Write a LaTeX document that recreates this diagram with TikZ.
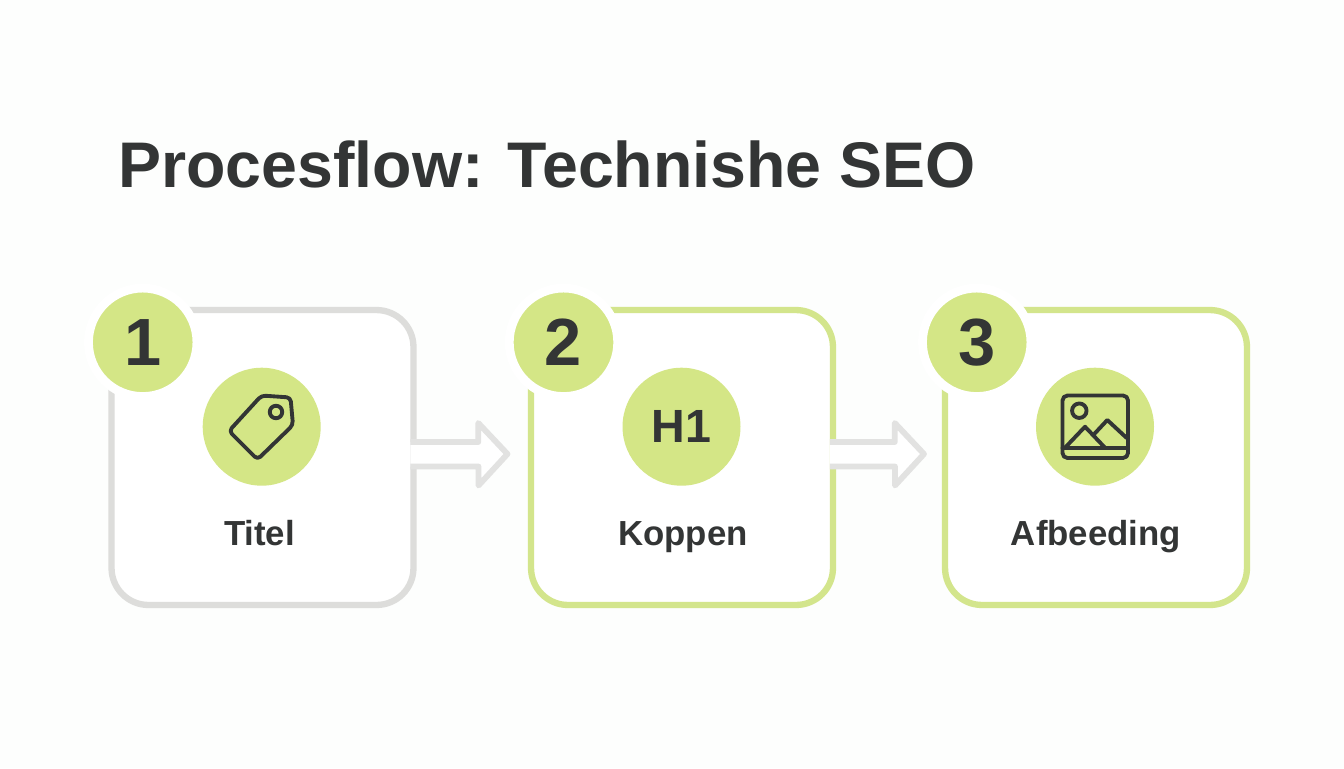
\documentclass[tikz,border=0pt]{standalone}
\usepackage{xcolor}
\usepackage{fontspec}
\setmainfont{Liberation Sans}
\usetikzlibrary{calc}
\definecolor{pagewhite}{HTML}{FDFEFD}
\definecolor{limefill}{HTML}{D4E686}
\definecolor{limeline}{HTML}{D3E58C}
\definecolor{boxgray}{HTML}{DDDDDB}
\definecolor{arrowgray}{HTML}{E2E2E1}
\definecolor{inkdark}{HTML}{333535}
\tikzset{
	stepbox/.style={draw,fill=white,rounded corners=0.74cm,line width=3.6pt,outer sep=0pt,minimum width=6.04cm,minimum height=5.9cm},
	badge/.style={circle,fill=limefill,draw=white,line width=5pt,minimum size=2.17cm,inner sep=0pt,text=inkdark,font=\bfseries\fontsize{38}{38}\selectfont},
	iconcircle/.style={circle,fill=limefill,minimum size=2.36cm,inner sep=0pt,text=inkdark,font=\bfseries\fontsize{26.5}{26.5}\selectfont},
	steplabel/.style={anchor=base,text=inkdark,font=\bfseries\fontsize{19.8}{19.8}\selectfont},
	flowarrow/.style={draw=arrowgray,fill=white,line width=3.3pt,line join=round},
	iconline/.style={draw=inkdark,line width=2.2pt,line join=round,line cap=round}
}
\begin{document}
\begin{tikzpicture}[x=0.02cm,y=-0.02cm]
	\fill[pagewhite] (0,0) rectangle (1344,768);
	\useasboundingbox (0,0) rectangle (1344,768);
	\node[anchor=base west,text=inkdark,font=\bfseries\fontsize{36.7}{36.7}\selectfont] (flowtitle) at (112,187) {Procesflow: Technishe SEO};

	\node[stepbox,draw=boxgray] (titelbox) at (262.5,457.5) {};
	\node[stepbox,draw=limeline] (koppenbox) at (682,457.5) {};
	\node[stepbox,draw=limeline] (afbeeldingbox) at (1096,457.5) {};

	\draw[flowarrow] ($(titelbox.east)+(-3.2,-15.5)$) -- ++(68,0) -- ++(0,-19) -- ($(titelbox.east)+(94,-3.5)$) -- ($(titelbox.east)+(65,28)$) -- ++(0,-19) -- ($(titelbox.east)+(-3.2,9)$);
	\draw[flowarrow] ($(koppenbox.east)+(-3.2,-15.5)$) -- ++(65,0) -- ++(0,-19) -- ($(koppenbox.east)+(91,-3.5)$) -- ($(koppenbox.east)+(62,28)$) -- ++(0,-19) -- ($(koppenbox.east)+(-3.2,9)$);

	\node[badge] (badgeone) at (142.7,342.3) {1};
	\node[badge] (badgetwo) at (563.5,342.3) {2};
	\node[badge] (badgethree) at (976.7,342.3) {3};

	\node[iconcircle] (tagcircle) at (261.7,426.7) {};
	\node[iconcircle] (hcircle) at (681.5,426.7) {H1};
	\node[iconcircle] (imagecircle) at (1095,426.7) {};

	\draw[iconline,rounded corners=0.8mm] (229,431) -- (261.5,395.5) -- (290.5,397.5) -- (293,425) -- (257.5,459.5) -- cycle;
	\draw[iconline] (276,412) circle (0.125cm);

	\draw[iconline,rounded corners=1mm] (1062.5,395.5) rectangle (1128,458);
	\draw[iconline] (1062.5,447.7) -- (1128,447.7);
	\draw[iconline] (1079.3,410.7) circle (0.145cm);
	\draw[iconline] (1065,447.7) -- (1085,426.7) -- (1105,447.7);
	\draw[iconline] (1093.3,435) -- (1107.3,420) -- (1126.7,438);

	\node[steplabel] (titellabel) at (259.5,545) {Titel};
	\node[steplabel] (koppenlabel) at (683,545) {Koppen};
	\node[steplabel] (afbeeldinglabel) at (1096,545) {Afbeeding};
\end{tikzpicture}
\end{document}
